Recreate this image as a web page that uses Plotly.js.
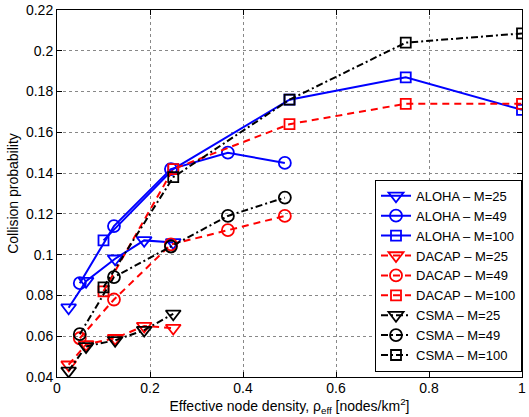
<!DOCTYPE html>
<html>
<head>
<meta charset="utf-8">
<script src="https://cdn.plot.ly/plotly-3.0.1.min.js"></script>
<style>html,body{margin:0;padding:0;background:#fff}#chart{width:529px;height:417px}</style>
</head>
<body>
<div id="chart"></div>
<script>
// x values (effective node density)
const xM25  = [0.025, 0.0625, 0.125, 0.1875, 0.25];
const xM49  = [0.049, 0.1225, 0.245, 0.3675, 0.49];
const xM100 = [0.1, 0.25, 0.5, 0.75, 1.0];

// collision probability
const alohaM25  = [0.074, 0.087, 0.098, 0.107, 0.106];
const alohaM49  = [0.086, 0.114, 0.142, 0.150, 0.145];
const alohaM100 = [0.107, 0.142, 0.176, 0.187, 0.171];
const dacapM25  = [0.046, 0.056, 0.059, 0.065, 0.064];
const dacapM49  = [0.059, 0.078, 0.105, 0.112, 0.119];
const dacapM100 = [0.082, 0.142, 0.164, 0.174, 0.174];
const csmaM25   = [0.043, 0.055, 0.058, 0.063, 0.071];
const csmaM49   = [0.061, 0.089, 0.104, 0.119, 0.128];
const csmaM100  = [0.084, 0.138, 0.176, 0.204, 0.2085];

const names = ["ALOHA \u2013 M=25","ALOHA \u2013 M=49","ALOHA \u2013 M=100",
               "DACAP \u2013 M=25","DACAP \u2013 M=49","DACAP \u2013 M=100",
               "CSMA \u2013 M=25","CSMA \u2013 M=49","CSMA \u2013 M=100"];

function tr(x, y, name, color, dash, symbol, size){
  return {x:x, y:y, name:name, type:'scatter', mode:'lines+markers',
    line:{color:color, width:2, dash:dash},
    marker:{symbol:symbol, size:size, color:color, line:{color:color, width:1.8}}};
}
const dd = '7px,5px';
const dashdot = '7px,3px,2px,3px';
const data = [
  tr(xM25, alohaM25, names[0], '#0000ff', 'solid', 'triangle-down-open', 13),
  tr(xM49, alohaM49, names[1], '#0000ff', 'solid', 'circle-open', 12),
  tr(xM100, alohaM100, names[2], '#0000ff', 'solid', 'square-open', 10),
  tr(xM25, dacapM25, names[3], '#ff0000', dd, 'triangle-down-open', 13),
  tr(xM49, dacapM49, names[4], '#ff0000', dd, 'circle-open', 12),
  tr(xM100, dacapM100, names[5], '#ff0000', dd, 'square-open', 10),
  tr(xM25, csmaM25, names[6], '#000000', dashdot, 'triangle-down-open', 13),
  tr(xM49, csmaM49, names[7], '#000000', dashdot, 'circle-open', 12),
  tr(xM100, csmaM100, names[8], '#000000', dashdot, 'square-open', 10)
];

const font = {family:'"Liberation Sans", Arial, sans-serif', size:14, color:'#000'};
const layout = {
  width:529, height:417,
  margin:{l:57, r:7, t:10, b:40},
  paper_bgcolor:'#fff', plot_bgcolor:'#fff',
  font: font,
  showlegend:true,
  legend:{x:1, xanchor:'right', y:0.014, yanchor:'bottom', xref:'paper', yref:'paper',
    bgcolor:'#fff', bordercolor:'#000', borderwidth:1,
    font:{family:font.family, size:13, color:'#000'}, tracegroupgap:0, itemwidth:30},
  xaxis:{range:[0,1], tickvals:[0,0.2,0.4,0.6,0.8,1], ticktext:['0','0.2','0.4','0.6','0.8','1'],
    showline:true, linecolor:'#000', linewidth:1, mirror:'ticks', ticks:'inside', ticklen:5, tickcolor:'#000',
    showgrid:true, gridcolor:'#888', griddash:'dot', gridwidth:1, zeroline:false,
    ticklabelstandoff:-2,
    title:{text:'Effective node density, \u03c1<sub>eff</sub> [nodes/km<sup>2</sup>]', font:{size:14}, standoff:0},
    tickfont:{size:14}},
  yaxis:{range:[0.04,0.22], tickvals:[0.04,0.06,0.08,0.1,0.12,0.14,0.16,0.18,0.2,0.22],
    ticktext:['0.04','0.06','0.08','0.1','0.12','0.14','0.16','0.18','0.2','0.22'],
    showline:true, linecolor:'#000', linewidth:1, mirror:'ticks', ticks:'inside', ticklen:5, tickcolor:'#000',
    showgrid:true, gridcolor:'#888', griddash:'dot', gridwidth:1, zeroline:false,
    title:{text:'Collision probability', font:{size:14}, standoff:4},
    tickfont:{size:14}}
};
Plotly.newPlot('chart', data, layout, {displayModeBar:false, staticPlot:true});
</script>
</body>
</html>
